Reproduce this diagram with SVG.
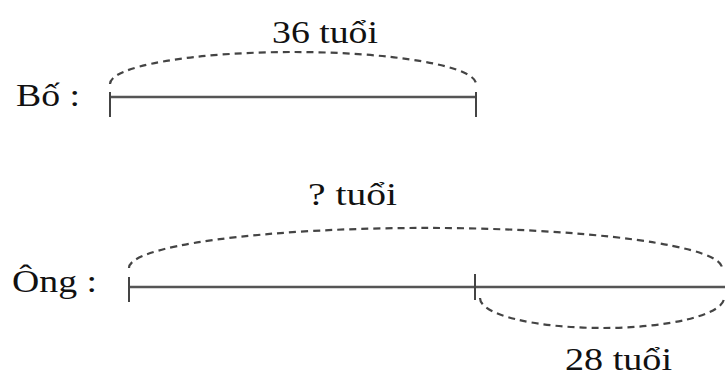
<svg xmlns="http://www.w3.org/2000/svg" width="725" height="377" viewBox="0 0 725 377">
<style>
.t{font-family:"Liberation Serif","Times New Roman",serif;font-size:32px;fill:#111}
.seg{stroke:#555;stroke-width:2.5;fill:none}
.tick{stroke:#444;stroke-width:2;fill:none}
.dash{stroke:#444;stroke-width:2.2;fill:none;stroke-dasharray:7 5}
</style>
<rect width="725" height="377" fill="#fff"/>
<g id="bo">
<text class="t" x="16" y="106" textLength="64" lengthAdjust="spacingAndGlyphs">Bố :</text>
<line class="seg" x1="110" y1="97" x2="476" y2="97"/>
<line class="tick" x1="110" y1="92" x2="110" y2="117"/>
<line class="tick" x1="476" y1="92" x2="476" y2="117"/>
</g>
<g id="ong">
<text class="t" x="12" y="292" textLength="85" lengthAdjust="spacingAndGlyphs">Ông :</text>
<line class="seg" x1="129" y1="287" x2="725" y2="287"/>
<line class="tick" x1="129" y1="277" x2="129" y2="302"/>
<line class="tick" x1="475" y1="274" x2="475" y2="300"/>
</g>
<g id="connectors">
<path class="dash" d="M110,84 A183,32 0 0 1 476,84"/>
<path class="dash" d="M129,268 A296,40 0 0 1 722,268"/>
<path class="dash" d="M480,298 A122,30 0 0 0 724,298"/>
</g>
<g id="labels">
<text class="t" x="272" y="43" textLength="106" lengthAdjust="spacingAndGlyphs">36 tuổi</text>
<text class="t" x="308" y="205" textLength="89" lengthAdjust="spacingAndGlyphs">? tuổi</text>
<text class="t" x="565" y="370" textLength="107" lengthAdjust="spacingAndGlyphs">28 tuổi</text>
</g>
</svg>
